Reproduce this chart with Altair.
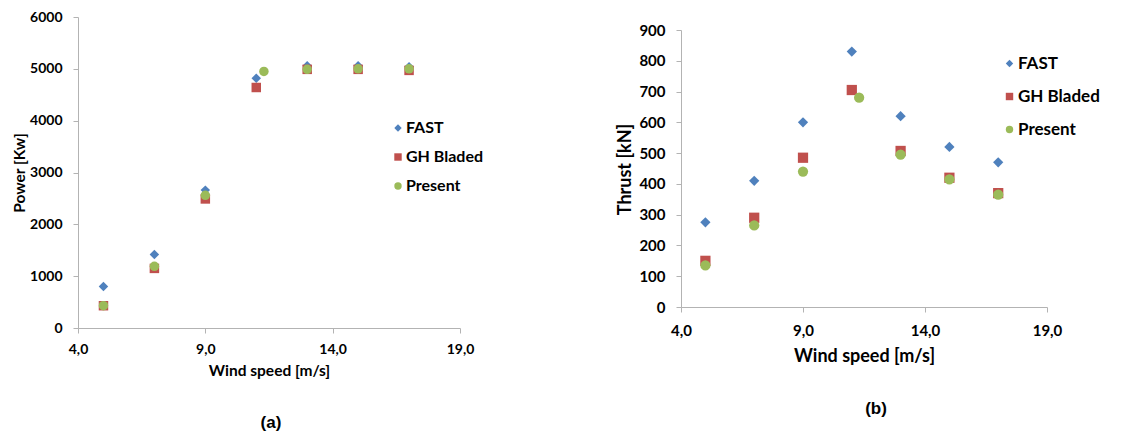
import altair as alt
import pandas as pd

series = ["FAST", "GH Bladed", "Present"]
colors = ["#4F81BD", "#C0504D", "#9BBB59"]
shapes = ["diamond", "square", "circle"]

ws_fast = [5, 7, 9, 11, 13, 15, 17]
ws_gh = [5, 7, 9, 11, 13, 15, 17]
ws_present = [5, 7, 9, 11.3, 13, 15, 17]

power_fast = [800, 1420, 2660, 4820, 5060, 5060, 5040]
power_gh = [430, 1150, 2490, 4640, 4990, 4990, 4970]
power_present = [430, 1190, 2560, 4950, 4990, 5000, 5000]

thrust_fast = [275, 410, 600, 830, 620, 520, 470]
thrust_gh = [150, 290, 485, 705, 507, 420, 370]
thrust_present = [135, 265, 440, 680, 495, 415, 365]

x_ticks = [4, 9, 14, 19]
power_ticks = [0, 1000, 2000, 3000, 4000, 5000, 6000]
thrust_ticks = [0, 100, 200, 300, 400, 500, 600, 700, 800, 900]

GRAY = "#B3B3B3"
FONT = "Lato"


def make_df(ys):
    rows = []
    k = 0
    for name, xs, vs in zip(series, [ws_fast, ws_gh, ws_present], ys):
        for x, v in zip(xs, vs):
            rows.append({"series": name, "ws": x, "val": v, "k": k})
            k += 1
    return pd.DataFrame(rows)


def panel(df, ydom, yticks, ytitle, w, h, yrange, fs, tfs, xlab_pad, xtitle_pad, ylab_pad,
          ytitle_x, ytitle_y, lx, ly, lfs, lrow, msize, caption, cx, cy):
    xlab = "replace(format(datum.value, '.1f'), '.', ',')"
    legend = alt.Legend(
        title=None, orient="none", legendX=lx, legendY=ly,
        labelFont=FONT, labelFontWeight="bold", labelFontSize=lfs, labelColor="black",
        symbolSize=55, symbolStrokeWidth=0, rowPadding=lrow, labelOffset=0, padding=0,
        symbolOpacity=1,
    )
    pts = alt.Chart(df).mark_point(filled=True, opacity=1).encode(
        x=alt.X("ws:Q", scale=alt.Scale(domain=[4, 19], nice=False, zero=False),
                axis=alt.Axis(values=x_ticks, labelExpr=xlab, grid=False,
                              domainColor=GRAY, tickColor=GRAY, tickSize=5,
                              labelFont=FONT, labelFontWeight="bold", labelFontSize=fs,
                              labelColor="black", labelPadding=xlab_pad, labelFlush=False,
                              title="Wind speed [m/s]", titleFont=FONT, titleFontWeight="bold",
                              titleFontSize=tfs, titleColor="black", titlePadding=xtitle_pad)),
        y=alt.Y("val:Q", scale=alt.Scale(domain=ydom, nice=False, zero=True, range=yrange),
                axis=alt.Axis(values=yticks, grid=False, format="d",
                              domainColor=GRAY, tickColor=GRAY, tickSize=5,
                              labelFont=FONT, labelFontWeight="bold", labelFontSize=fs,
                              labelColor="black", labelPadding=ylab_pad, labelFlush=False,
                              labelOverlap=False,
                              title=ytitle, titleFont=FONT, titleFontWeight="bold",
                              titleFontSize=tfs, titleColor="black",
                              titleX=ytitle_x, titleY=ytitle_y, titleBaseline="middle")),
        color=alt.Color("series:N", scale=alt.Scale(domain=series, range=colors), legend=legend),
        shape=alt.Shape("series:N", scale=alt.Scale(domain=series, range=shapes), legend=legend),
        size=alt.value(msize),
        order=alt.Order("k:Q"),
    )
    cap = alt.Chart(pd.DataFrame({"t": [caption]})).mark_text(
        font="Liberation Sans", fontWeight="bold", fontSize=17, color="black",
        align="center", baseline="middle",
    ).encode(text="t:N", x=alt.value(cx), y=alt.value(cy))
    return alt.layer(pts, cap).properties(width=w, height=h)


left = panel(make_df([power_fast, power_gh, power_present]), [0, 6000], power_ticks,
             "Power [Kw]", 382, 311, [311, 0], 14, 15.5, 9, 7, 11, -59, 155.5,
             312, 103, 16, 13, 90, "(a)", 193, 406)
right = panel(make_df([thrust_fast, thrust_gh, thrust_present]), [0, 900], thrust_ticks,
              "Thrust [kN]", 366, 290, [290, 13], 15, 18, 11, 9, 11, -56, 152,
              320, 38, 17, 15, 105, "(b)", 195, 392)

chart = alt.hconcat(left, right, spacing=221, bounds="flush").resolve_scale(
    color="independent", shape="independent", x="independent", y="independent"
).resolve_legend(color="independent", shape="independent").properties(
    padding={"left": 4, "top": 2, "right": 0, "bottom": 0}
).configure_view(stroke=None)

chart.save("out.html", embed_options={"renderer": "svg", "actions": False})
